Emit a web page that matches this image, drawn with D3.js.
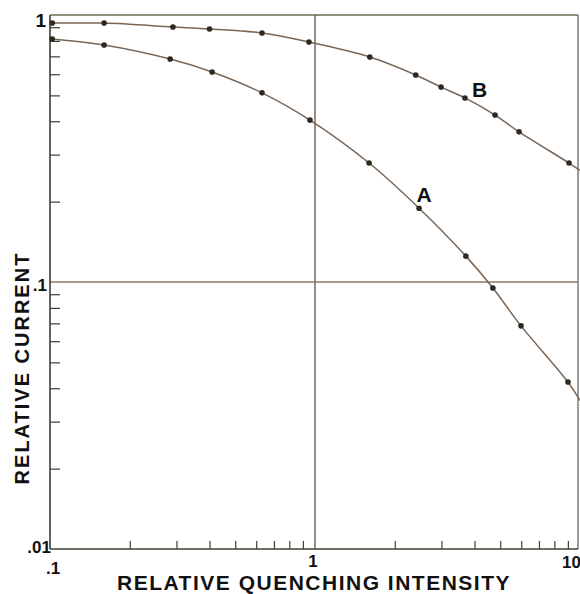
<!DOCTYPE html>
<html><head><meta charset="utf-8">
<script src="https://cdn.jsdelivr.net/npm/d3@7"></script>
<style>body{margin:0;background:#fff}svg{display:block}</style>
</head><body>
<svg id="c" width="580" height="594"></svg>
<script>
// Data
const xTickVals = [0.1, 1, 10];
const xTickLabels = [".1", "1", "10"];
const yTickVals = [0.01, 0.1, 1];
const yTickLabels = [".01", ".1", "1"];
const xMinor = [0.2,0.3,0.4,0.5,0.6,0.7,0.8,0.9,2,3,4,5,6,7,8,9];
const yMinor = [0.02,0.03,0.04,0.05,0.06,0.07,0.08,0.09,0.2,0.3,0.4,0.5,0.6,0.7,0.8,0.9];

const seriesA_x = [0.102, 0.16, 0.284, 0.409, 0.631, 0.957, 1.60, 2.47, 3.71, 4.69, 5.99, 9.01];
const seriesA_y = [0.813, 0.772, 0.684, 0.612, 0.511, 0.404, 0.279, 0.189, 0.125, 0.095, 0.0685, 0.0422];
const seriesA_ends = [[0.1, 0.816], [10, 0.036]];

const seriesB_x = [0.102, 0.16, 0.291, 0.40, 0.631, 0.949, 1.61, 2.40, 2.99, 3.68, 4.78, 5.89, 9.09];
const seriesB_y = [0.933, 0.933, 0.902, 0.886, 0.856, 0.792, 0.696, 0.596, 0.537, 0.489, 0.422, 0.365, 0.279];
const seriesB_ends = [[0.1, 0.935], [10, 0.262]];

const labelA = {x: 2.58, y: 0.1995, text: "A"};
const labelB = {x: 4.18, y: 0.493, text: "B"};

const svg = d3.select("#c");
const L = 50, R = 580, T = 15, B = 549;
const x = d3.scaleLog().domain([0.1, 10]).range([L, R]);
const y = d3.scaleLog().domain([0.01, 1]).range([B, T]);

const axisCol = "#3f3d30";
const curveCol = "#7a6656";
const dotCol = "#2b2a20";

// frame / grid lines
const g = svg.append("g");
g.append("line").attr("x1", L).attr("x2", 578).attr("y1", T).attr("y2", T).attr("stroke", "#6a6a4e").attr("stroke-width", 1.5);
g.append("line").attr("x1", 578).attr("x2", 578).attr("y1", T).attr("y2", B).attr("stroke", "#6a6a58").attr("stroke-width", 1.3);
g.append("line").attr("x1", x(1)).attr("x2", x(1)).attr("y1", T).attr("y2", B).attr("stroke", "#6b5a4c").attr("stroke-width", 1.4);
g.append("line").attr("x1", L).attr("x2", 578).attr("y1", y(0.1)).attr("y2", y(0.1)).attr("stroke", "#8a7868").attr("stroke-width", 1.3);

// Axes (minor ticks, pointing inward)
const xAxis = d3.axisTop(x).tickValues(xMinor).tickSize(8).tickFormat("");
const xa = svg.append("g").attr("transform", `translate(0,${B})`).call(xAxis);
xa.select(".domain").remove();
xa.selectAll("line").attr("stroke", axisCol).attr("stroke-width", 1.2);
svg.append("line").attr("x1", L).attr("x2", 578).attr("y1", B).attr("y2", B).attr("stroke", axisCol).attr("stroke-width", 1.6);

const yAxis = d3.axisRight(y).tickValues(yMinor).tickSize(10).tickFormat("");
const ya = svg.append("g").attr("transform", `translate(${L},0)`).call(yAxis);
ya.select(".domain").remove();
ya.selectAll("line").attr("stroke", axisCol).attr("stroke-width", 1.2);
svg.append("line").attr("x1", L).attr("x2", L).attr("y1", T).attr("y2", B).attr("stroke", axisCol).attr("stroke-width", 1.6);

const font = "'Liberation Sans', Arial, sans-serif";
// tick labels
const xLabelPos = [{dx: 3, dy: 574, a: "middle"}, {dx: -2, dy: 567, a: "middle"}, {dx: -18, dy: 568, a: "start"}];
svg.selectAll(".xl").data(xTickVals).enter().append("text")
  .attr("x", (d, i) => x(d) + xLabelPos[i].dx).attr("y", (d, i) => xLabelPos[i].dy)
  .attr("text-anchor", (d, i) => xLabelPos[i].a).attr("font-family", font).attr("font-weight", "bold")
  .attr("font-size", 17).attr("fill", "#111").text((d, i) => xTickLabels[i]);
const yLabelPos = [{dx: 51, dy: 4}, {dx: 47, dy: 9}, {dx: 46, dy: 12}];
svg.selectAll(".yl").data(yTickVals).enter().append("text")
  .attr("x", (d, i) => yLabelPos[i].dx).attr("y", (d, i) => y(d) + yLabelPos[i].dy)
  .attr("text-anchor", "end").attr("font-family", font).attr("font-weight", "bold")
  .attr("font-size", (d, i) => i === 2 ? 19 : 17).attr("fill", "#111").text((d, i) => yTickLabels[i]);

// axis titles
svg.append("text").attr("x", 314).attr("y", 590).attr("text-anchor", "middle")
  .attr("font-family", font).attr("font-weight", "bold").attr("font-size", 21)
  .attr("letter-spacing", 1.5).attr("fill", "#111").text("RELATIVE QUENCHING INTENSITY");
svg.append("text").attr("transform", "translate(29,368) rotate(-90)").attr("text-anchor", "middle")
  .attr("font-family", font).attr("font-weight", "bold").attr("font-size", 20)
  .attr("letter-spacing", 2).attr("fill", "#111").text("RELATIVE CURRENT");

// curves
const line = d3.line().x(d => x(d[0])).y(d => y(d[1])).curve(d3.curveCatmullRom.alpha(0.5));
function drawSeries(xs, ys, ends) {
  const pts = xs.map((v, i) => [v, ys[i]]);
  const full = [ends[0], ...pts, ends[1]];
  svg.append("path").datum(full).attr("d", line).attr("fill", "none")
    .attr("stroke", curveCol).attr("stroke-width", 1.5);
  svg.selectAll(null).data(pts).enter().append("circle")
    .attr("cx", d => x(d[0])).attr("cy", d => y(d[1])).attr("r", 2.8).attr("fill", dotCol);
}
drawSeries(seriesA_x, seriesA_y, seriesA_ends);
drawSeries(seriesB_x, seriesB_y, seriesB_ends);

[labelA, labelB].forEach(l => {
  svg.append("text").attr("x", x(l.x)).attr("y", y(l.y)).attr("text-anchor", "middle")
    .attr("font-family", font).attr("font-weight", "bold").attr("font-size", 21)
    .attr("fill", "#111").text(l.text);
});
</script>
</body></html>
